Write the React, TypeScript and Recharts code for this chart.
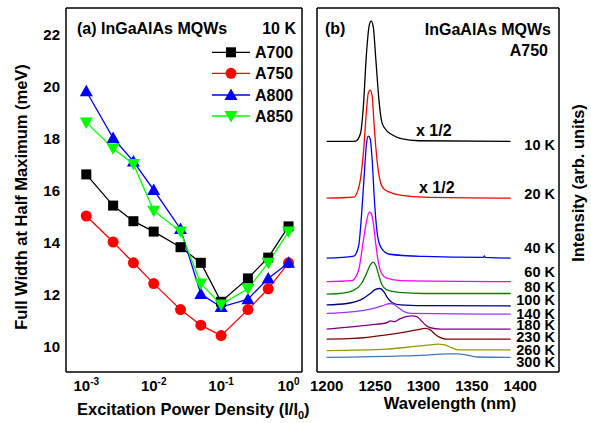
import React from 'react';
import { LineChart, Line, XAxis, YAxis } from 'recharts';

// ---- panel (a): FWHM vs excitation power density ----
const powerDensity = [0.001, 0.0025, 0.005, 0.01, 0.025, 0.05, 0.1, 0.25, 0.5, 1];
const fwhmA700 = [16.6, 15.4, 14.8, 14.4, 13.8, 13.2, 11.7, 12.6, 13.4, 14.6];
const fwhmA750 = [15.0, 14.0, 13.2, 12.4, 11.4, 10.8, 10.4, 11.4, 12.2, 13.2];
const fwhmA800 = [19.8, 18.0, 17.1, 16.0, 14.5, 12.0, 11.5, 11.8, 12.6, 13.2];
const fwhmA850 = [18.6, 17.6, 17.0, 15.2, 14.4, 12.4, 11.6, 12.2, 13.2, 14.4];
const sampleNames = ['A700', 'A750', 'A800', 'A850'];
const sampleColors = ['#000000', '#ff0000', '#0000ff', '#00ff00'];
const sampleShapes = ['square', 'circle', 'up', 'down'];

const powerMajor = [0.001, 0.01, 0.1, 1];
const powerMinor = [0.0006, 0.0007, 0.0008, 0.0009, 0.002, 0.003, 0.004, 0.005, 0.006, 0.007, 0.008, 0.009,
  0.02, 0.03, 0.04, 0.05, 0.06, 0.07, 0.08, 0.09, 0.2, 0.3, 0.4, 0.5, 0.6, 0.7, 0.8, 0.9];
const fwhmMajor = [10, 12, 14, 16, 18, 20, 22];
const fwhmMinor = [9.5, 10.5, 11, 11.5, 12.5, 13, 13.5, 14.5, 15, 15.5, 16.5, 17, 17.5, 18.5, 19, 19.5,
  20.5, 21, 21.5, 22.5];

// ---- panel (b): PL spectra of A750, [wavelength nm, intensity offset arb.] ----
const pl10K: [number, number][] = [[1200, 6.46], [1225, 6.46], [1230, 6.47], [1235, 6.69], [1238, 7.48], [1241, 8.88],
  [1244, 9.72], [1246, 9.83], [1248, 9.69], [1251, 8.68], [1254, 7.62], [1257, 7.0], [1260, 6.83], [1268, 6.64],
  [1277, 6.54], [1295, 6.48], [1390, 6.46]];
const pl20K: [number, number][] = [[1200, 4.87], [1228, 4.9], [1234, 5.27], [1238, 6.16], [1241, 7.28], [1243, 7.82],
  [1245, 7.9], [1247, 7.73], [1249, 6.92], [1252, 5.94], [1255, 5.38], [1259, 5.13], [1265, 5.04], [1280, 4.94],
  [1300, 4.9], [1390, 4.87]];
const pl40K: [number, number][] = [[1200, 3.19], [1228, 3.25], [1233, 3.53], [1236, 4.4], [1239, 5.6], [1241, 6.36],
  [1243, 6.61], [1245, 6.53], [1247, 5.94], [1249, 4.96], [1251, 4.2], [1253, 3.75], [1257, 3.45], [1265, 3.3],
  [1300, 3.24], [1362, 3.21], [1363, 3.25], [1364, 3.21], [1390, 3.19]];
const pl60K: [number, number][] = [[1200, 2.53], [1226, 2.56], [1233, 2.86], [1238, 3.7], [1241, 4.2], [1244, 4.48],
  [1246, 4.45], [1248, 4.2], [1250, 3.75], [1253, 3.14], [1256, 2.8], [1262, 2.63], [1277, 2.56], [1390, 2.53]];
const pl80K: [number, number][] = [[1200, 2.18], [1217, 2.21], [1227, 2.28], [1236, 2.48], [1241, 2.75], [1245, 3.0],
  [1248, 3.08], [1251, 2.97], [1254, 2.69], [1257, 2.45], [1262, 2.3], [1275, 2.23], [1300, 2.2], [1390, 2.2]];
const pl100K: [number, number][] = [[1200, 1.88], [1221, 1.92], [1235, 2.02], [1245, 2.2], [1250, 2.31], [1255, 2.34],
  [1259, 2.25], [1263, 2.07], [1268, 1.94], [1276, 1.88], [1300, 1.86], [1390, 1.85]];
const pl140K: [number, number][] = [[1200, 1.64], [1228, 1.69], [1245, 1.76], [1257, 1.85], [1262, 1.9], [1266, 1.92],
  [1269, 1.9], [1275, 1.78], [1280, 1.69], [1287, 1.64], [1390, 1.62]];
const pl180K: [number, number][] = [[1200, 1.2], [1228, 1.27], [1245, 1.32], [1262, 1.38], [1266, 1.43], [1270, 1.41],
  [1275, 1.48], [1282, 1.55], [1288, 1.57], [1293, 1.55], [1297, 1.46], [1302, 1.32], [1307, 1.24], [1318, 1.2],
  [1390, 1.2]];
const pl230K: [number, number][] = [[1200, 0.92], [1228, 0.94], [1262, 1.04], [1279, 1.11], [1293, 1.18], [1302, 1.22],
  [1307, 1.18], [1312, 1.06], [1317, 0.97], [1324, 0.92], [1390, 0.92]];
const pl260K: [number, number][] = [[1200, 0.6], [1262, 0.64], [1289, 0.71], [1307, 0.76], [1315, 0.78], [1322, 0.76],
  [1329, 0.68], [1337, 0.62], [1347, 0.62], [1390, 0.62]];
const pl300K: [number, number][] = [[1200, 0.41], [1279, 0.45], [1307, 0.48], [1324, 0.51], [1335, 0.51], [1345, 0.47],
  [1355, 0.42], [1390, 0.41]];

const spectra = [pl10K, pl20K, pl40K, pl60K, pl80K, pl100K, pl140K, pl180K, pl230K, pl260K, pl300K];
const tempLabels = ['10 K', '20 K', '40 K', '60 K', '80 K', '100 K', '140 K', '180 K', '230 K', '260 K', '300 K'];
const tempColors = ['#000000', '#ff0000', '#0000ff', '#ff00ff', '#008000', '#000080', '#9933ff', '#800080',
  '#800000', '#999900', '#4678b4'];

const wlMajor = [1200, 1250, 1300, 1350, 1400];
const wlMinor = [1210, 1220, 1230, 1240, 1260, 1270, 1280, 1290, 1310, 1320, 1330, 1340, 1360, 1370, 1380,
  1390, 1410, 1420, 1430];
const intMajor = [1, 2, 3, 4, 5, 6, 7, 8, 9, 10];

const FONT = '"Liberation Sans", Arial, Helvetica, sans-serif';

const fwhmRows = powerDensity.map((p, i) => ({
  p,
  A700: fwhmA700[i],
  A750: fwhmA750[i],
  A800: fwhmA800[i],
  A850: fwhmA850[i],
}));

function Marker({ shape, cx, cy, color }: { shape: string; cx: number; cy: number; color: string }) {
  if (shape === 'square') return <rect x={cx - 5} y={cy - 5} width={10} height={10} fill={color} />;
  if (shape === 'circle') return <circle cx={cx} cy={cy} r={5.5} fill={color} />;
  if (shape === 'up') return <polygon points={`${cx - 6.5},${cy + 5} ${cx + 6.5},${cy + 5} ${cx},${cy - 6.5}`} fill={color} />;
  return <polygon points={`${cx - 6.5},${cy - 5} ${cx + 6.5},${cy - 5} ${cx},${cy + 6.5}`} fill={color} />;
}

function PowerTick({ x, y, payload }: any) {
  const exp = Math.round(Math.log10(payload.value));
  return (
    <text x={x} y={y + 19} textAnchor="middle" fontFamily={FONT} fontWeight="bold" fontSize={15} fill="#000">
      10<tspan dy={-6} fontSize={10}>{exp}</tspan>
    </text>
  );
}

function LeftValueTick({ x, y, payload }: any) {
  return (
    <text x={x - 6} y={y + 5.5} textAnchor="end" fontFamily={FONT} fontWeight="bold" fontSize={15} fill="#000">
      {payload.value}
    </text>
  );
}

function WlTick({ x, y, payload }: any) {
  return (
    <text x={x} y={y + 19} textAnchor="middle" fontFamily={FONT} fontWeight="bold" fontSize={15} fill="#000">
      {payload.value}
    </text>
  );
}

const axisStroke = { stroke: '#000', strokeWidth: 1.5 };
const tickStroke = { stroke: '#000', strokeWidth: 1 };
const THIN = 0.01; // mirror axes take no room, but must not be zero-sized or they are skipped

// axes that only draw inward tick marks (and the frame where asked)
function xTicks(id: string, orient: 'top' | 'bottom', ticks: number[], size: number, extra: any, line = false) {
  return (
    <XAxis key={id} xAxisId={id} orientation={orient} mirror height={THIN} type="number" ticks={ticks}
      interval={0} tickSize={size} tick={false} tickLine={tickStroke} stroke="#000"
      axisLine={line ? axisStroke : false} allowDataOverflow {...extra} />
  );
}
function yTicks(id: string, orient: 'left' | 'right', ticks: number[], size: number, extra: any, line = false) {
  return (
    <YAxis key={id} yAxisId={id} orientation={orient} mirror width={THIN} type="number" ticks={ticks}
      interval={0} tickSize={size} tick={false} tickLine={tickStroke} stroke="#000"
      axisLine={line ? axisStroke : false} allowDataOverflow {...extra} />
  );
}

function FwhmPanel() {
  const xs = { scale: 'log', domain: [0.0005, 1.585], dataKey: 'p' };
  const ys = { domain: [9, 23] };
  return (
    <LineChart width={310} height={423} data={fwhmRows} margin={{ top: 8, right: 8, left: 0, bottom: 0 }}>
      <XAxis xAxisId="x" dataKey="p" type="number" scale="log" domain={[0.0005, 1.585]} allowDataOverflow
        ticks={powerMajor} interval={0} height={51} tickLine={false} tickSize={0} tickMargin={0}
        tick={<PowerTick />} stroke="#000" axisLine={axisStroke} />
      <YAxis yAxisId="y" type="number" domain={[9, 23]} allowDataOverflow ticks={fwhmMajor} interval={0} width={66}
        tickLine={false} tickSize={0} tickMargin={0} tick={<LeftValueTick />} stroke="#000" axisLine={axisStroke} />
      {xTicks('xb1', 'bottom', powerMajor, 5, xs)}
      {xTicks('xb2', 'bottom', powerMinor, 3, xs)}
      {xTicks('xt1', 'top', powerMajor, 5, xs, true)}
      {xTicks('xt2', 'top', powerMinor, 3, xs)}
      {yTicks('yl1', 'left', fwhmMajor, 5, ys)}
      {yTicks('yl2', 'left', fwhmMinor, 3, ys)}
      {yTicks('yr1', 'right', fwhmMajor, 5, ys, true)}
      {yTicks('yr2', 'right', fwhmMinor, 3, ys)}
      {sampleNames.map((name, i) => (
        <Line key={name} xAxisId="x" yAxisId="y" dataKey={name} type="linear" stroke={sampleColors[i]}
          strokeWidth={1.3} isAnimationActive={false}
          dot={(props: any) => (
            <Marker key={`${name}-${props.index}`} shape={sampleShapes[i]} cx={props.cx} cy={props.cy}
              color={sampleColors[i]} />
          )} />
      ))}
    </LineChart>
  );
}

function SpectraPanel() {
  const xs = { domain: [1190, 1440], dataKey: 'w' };
  const ys = { domain: [0, 10.2] };
  return (
    <LineChart width={291} height={423} margin={{ top: 8, right: 32, left: 17, bottom: 0 }}>
      <XAxis xAxisId="x" dataKey="w" type="number" domain={[1190, 1440]} allowDataOverflow ticks={wlMajor}
        interval={0} height={51} tickLine={false} tickSize={0} tickMargin={0} tick={<WlTick />} stroke="#000"
        axisLine={axisStroke} />
      <YAxis yAxisId="y" type="number" domain={[0, 10.2]} allowDataOverflow ticks={intMajor} interval={0}
        orientation="left" mirror width={THIN} tick={false} tickSize={5} tickLine={tickStroke} stroke="#000"
        axisLine={axisStroke} />
      {xTicks('xb1', 'bottom', wlMajor, 5, xs)}
      {xTicks('xb2', 'bottom', wlMinor, 3, xs)}
      {xTicks('xt1', 'top', wlMajor, 5, xs, true)}
      {xTicks('xt2', 'top', wlMinor, 3, xs)}
      {yTicks('yr', 'right', [5], 0, ys, true)}
      {spectra.map((s, i) => (
        <Line key={tempLabels[i]} xAxisId="x" yAxisId="y" data={s.map(([w, v]) => ({ w, v }))} dataKey="v"
          type="monotone" stroke={tempColors[i]} strokeWidth={1.3} dot={false} isAnimationActive={false} />
      ))}
    </LineChart>
  );
}

const tempLabelY = [149.5, 198.5, 253, 277, 292, 304.5, 318.5, 330, 342, 354.5, 367];
const legendY = [52.3, 73.3, 95, 116];

function Annotations() {
  const t = { fontFamily: FONT, fontWeight: 'bold' as const, fill: '#000' };
  return (
    <svg width={591} height={423} style={{ position: 'absolute', left: 0, top: 0, pointerEvents: 'none' }}>
      <text x={77} y={34} fontSize={16} {...t}>(a) InGaAlAs MQWs</text>
      <text x={296} y={34} fontSize={16} textAnchor="end" {...t}>10 K</text>
      {sampleNames.map((name, i) => (
        <g key={name}>
          <line x1={212} x2={250} y1={legendY[i]} y2={legendY[i]} stroke={sampleColors[i]} strokeWidth={1.3} />
          <Marker shape={sampleShapes[i]} cx={231} cy={legendY[i]} color={sampleColors[i]} />
          <text x={255} y={legendY[i] + 6} fontSize={16} {...t}>{name}</text>
        </g>
      ))}
      <text transform="translate(27,197) rotate(-90)" textAnchor="middle" fontSize={16.5} {...t}>
        Full Width at Half Maximum (meV)
      </text>
      <text x={77} y={415} fontSize={16.5} {...t}>
        Excitation Power Density (I/I<tspan dy={4} fontSize={11}>0</tspan><tspan dy={-4}>)</tspan>
      </text>

      <text x={325} y={34} fontSize={16} {...t}>(b)</text>
      <text x={551} y={35} fontSize={16} textAnchor="end" {...t}>InGaAlAs MQWs</text>
      <text x={548} y={56} fontSize={16} textAnchor="end" {...t}>A750</text>
      <text x={416} y={136} fontSize={16} {...t}>x 1/2</text>
      <text x={419} y={193} fontSize={16} {...t}>x 1/2</text>
      {tempLabels.map((lab, i) => (
        <text key={lab} x={555} y={tempLabelY[i]} fontSize={14.5} textAnchor="end" {...t}>{lab}</text>
      ))}
      <text transform="translate(584,183) rotate(-90)" textAnchor="middle" fontSize={16.5} {...t}>
        Intensity (arb. units)
      </text>
      <text x={450} y={409} fontSize={16.5} textAnchor="middle" {...t}>Wavelength (nm)</text>
    </svg>
  );
}

export default function App() {
  return (
    <div style={{ position: 'absolute', left: 0, top: 0, width: 591, height: 423, background: '#fff' }}>
      <div style={{ position: 'absolute', left: 0, top: 0 }}>
        <FwhmPanel />
      </div>
      <div style={{ position: 'absolute', left: 300, top: 0 }}>
        <SpectraPanel />
      </div>
      <Annotations />
    </div>
  );
}
